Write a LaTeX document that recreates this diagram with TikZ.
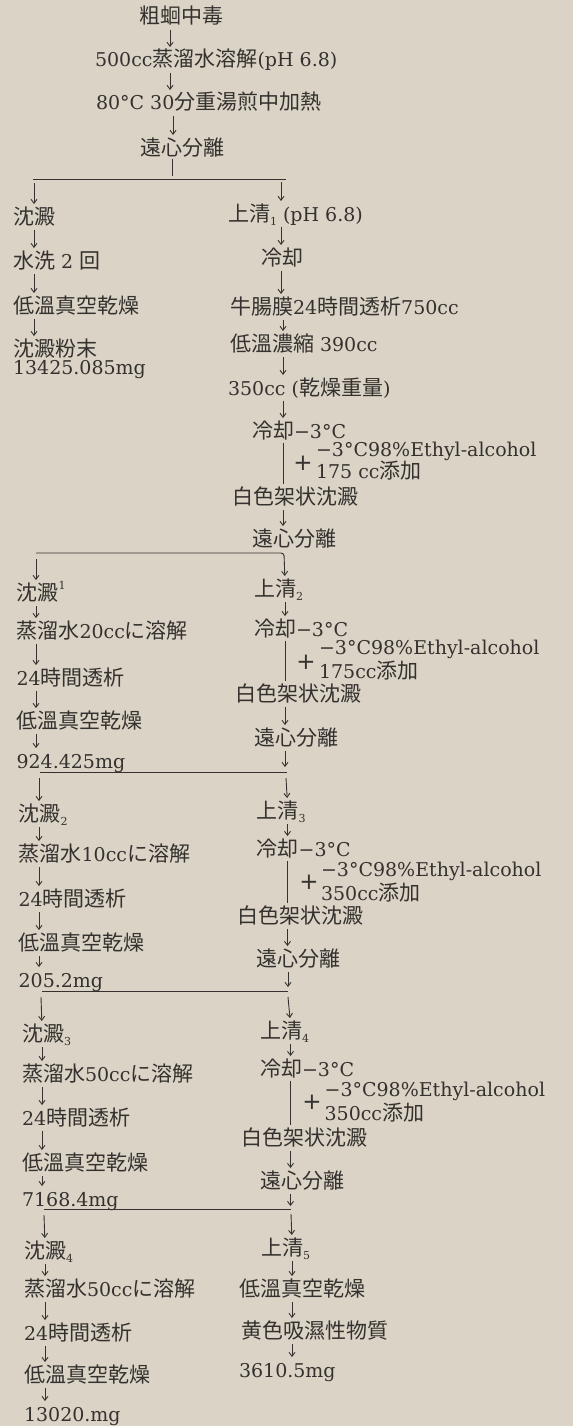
\documentclass[tikz,border=0pt]{standalone}
\usepackage{fontspec}
\setmainfont{DejaVu Serif}
\newfontfamily\cjk{Noto Sans CJK JP}
\newfontfamily\plusfont{DejaVu Sans}
\usetikzlibrary{arrows.meta}
\definecolor{bg}{RGB}{218,211,198}
\definecolor{ink}{RGB}{52,49,46}
\newcommand\J[1]{{\cjk\fontsize{21}{22}\selectfont #1}}
\newcommand\sbs[1]{\raisebox{-0.22em}{\fontsize{11}{11}\selectfont #1}}
\newcommand\sps[1]{\raisebox{0.55em}{\fontsize{11}{11}\selectfont #1}}
\newcommand\flowdn[3]{\draw[arr] (#1.south -| #3) -- (#2.north -| #3);}
\tikzset{
  txt/.style={anchor=base west, inner sep=0pt, outer sep=0pt, text height=14pt, text depth=4pt,
    font=\fontsize{19}{22}\selectfont, text=ink},
  pl/.style={inner sep=0pt, outer sep=0pt, font={\plusfont\fontsize{23}{23}\selectfont}, text=ink},
  ln/.style={draw=ink, line width=1pt},
  arr/.style={draw=ink, line width=0.9pt, -{Straight Barb[length=4pt,width=6pt]}, shorten <=2pt, shorten >=6pt},
}
\begin{document}
\begin{tikzpicture}[x=1pt,y=-1pt]
\useasboundingbox (0,0) rectangle (573,1426);
\fill[bg] (0,0) rectangle (573,1426);
% column x positions for connectors
\coordinate (xa) at (170,0);
\coordinate (xab) at (173,0);
\coordinate (xl1) at (34,0);
\coordinate (xl2) at (36,0);
\coordinate (xl3) at (39,0);
\coordinate (xl4) at (42,0);
\coordinate (xl5) at (45,0);
\coordinate (xr1) at (281,0);
\coordinate (xr1b) at (283,0);
\coordinate (xr2) at (285,0);
\coordinate (xr3) at (287.5,0);
\coordinate (xr4) at (290.5,0);
\coordinate (xr5) at (292,0);
% ---- top
\node[txt] (a1) at (139,24) {\J{粗蛔中毒}};
\node[txt] (a2) at (95,67) {500cc\J{蒸溜水溶解}(pH 6.8)};
\node[txt] (a3) at (96,110) {80°C 30\J{分重湯煎中加熱}};
\node[txt] (a4) at (140,155) {\J{遠心分離}};
\flowdn{a1}{a2}{xa}
\flowdn{a2}{a3}{xa}
\flowdn{a3}{a4}{xab}
% split 1
\coordinate (v1) at (172,176);
\coordinate (h1l) at (33,179);
\coordinate (h1r) at (286,179);
\coordinate (h1a) at (34,183);
\coordinate (h1b) at (281,182);
\draw[ln] (a4.south -| v1) -- (v1);
\draw[ln] (h1l) -- (h1r);
% ---- left block 1
\node[txt] (L1) at (13,224) {\J{沈澱}};
\node[txt] (L2) at (13,268) {\J{水洗} 2 \J{回}};
\node[txt] (L3) at (13,313) {\J{低溫真空乾燥}};
\node[txt] (L4a) at (13,356) {\J{沈澱粉末}};
\node[txt] (L4b) at (13,374) {13425.085mg};
\draw[arr, shorten <=0pt] (h1a) -- (L1.north -| xl1);
\flowdn{L1}{L2}{xl1}
\flowdn{L2}{L3}{xl1}
\flowdn{L3}{L4a}{xl1}
% ---- right block 1
\node[txt] (R1) at (228,221) {\J{上清}\sbs{1} (pH 6.8)};
\node[txt] (R2) at (261,265) {\J{冷却}};
\node[txt] (R3) at (230,314) {\J{牛腸膜}24\J{時間透析}750cc};
\node[txt] (R4) at (230,351) {\J{低溫濃縮} 390cc};
\node[txt] (R5) at (228,395) {350cc (\J{乾燥重量})};
\node[txt] (R6) at (252,438) {\J{冷却}−3°C};
\node[txt] (E1a) at (316,456) {−3°C98\%Ethyl-alcohol};
\node[txt] (E1b) at (316,478) {175 cc\J{添加}};
\node[pl] (P1s) at (303,463) {+};
\node[txt] (R7) at (232,504) {\J{白色架状沈澱}};
\node[txt] (R8) at (252,546) {\J{遠心分離}};
\draw[arr, shorten <=0pt] (h1b) -- (R1.north -| xr1);
\flowdn{R1}{R2}{xr1}
\flowdn{R2}{R3}{xr1}
\flowdn{R3}{R4}{xr1b}
\flowdn{R4}{R5}{xr1b}
\flowdn{R5}{R6}{xr1b}
\draw[ln, shorten <=1pt, shorten >=6pt] (R6.south -| xr1b) -- (R7.north -| xr1b);
\flowdn{R7}{R8}{xr1b}
% split 2
\coordinate (h2l) at (36,553);
\coordinate (h2r) at (284,553);
\coordinate (h2a) at (36,559);
% ---- left block 2
\node[txt] (P1) at (16.5,600) {\J{沈澱}\sps{1}};
\node[txt] (P2) at (16.5,638) {\J{蒸溜水}20cc\J{に溶解}};
\node[txt] (P3) at (16.5,685) {24\J{時間透析}};
\node[txt] (P4) at (16.5,728) {\J{低溫真空乾燥}};
\node[txt] (P5) at (16.5,768) {924.425mg};
\draw[arr, shorten <=0pt] (h2a) -- (P1.north -| xl2);
\flowdn{P1}{P2}{xl2}
\flowdn{P2}{P3}{xl2}
\flowdn{P3}{P4}{xl2}
\flowdn{P4}{P5}{xl2}
% ---- right block 2
\node[txt] (Q1) at (254,596) {\J{上清}\sbs{2}};
\node[txt] (Q2) at (254,636) {\J{冷却}−3°C};
\node[txt] (E2a) at (319,654) {−3°C98\%Ethyl-alcohol};
\node[txt] (E2b) at (319,678) {175cc\J{添加}};
\node[pl] (P2s) at (306,662) {+};
\node[txt] (Q3) at (235,701) {\J{白色架状沈澱}};
\node[txt] (Q4) at (254,745) {\J{遠心分離}};
\draw[arr, shorten <=0pt, rounded corners=3pt] (h2l) -- (h2r) -- (Q1.north -| xr2);
\flowdn{Q1}{Q2}{xr2}
\draw[ln, shorten <=1pt, shorten >=6pt] (Q2.south -| xr2) -- (Q3.north -| xr2);
\flowdn{Q3}{Q4}{xr2}
% split 3
\coordinate (t3) at (285,767);
\coordinate (h3l) at (40,772);
\coordinate (h3r) at (287,772);
\coordinate (h3a) at (39,778);
\coordinate (h3b) at (286,778);
\draw[arr, shorten >=0pt] (Q4.south -| xr2) -- (t3);
\draw[ln] (h3l) -- (h3r);
% ---- left block 3
\node[txt] (P6) at (18.6,821) {\J{沈澱}\sbs{2}};
\node[txt] (P7) at (18.6,861) {\J{蒸溜水}10cc\J{に溶解}};
\node[txt] (P8) at (18.6,906) {24\J{時間透析}};
\node[txt] (P9) at (18.6,950) {\J{低溫真空乾燥}};
\node[txt] (P10) at (18.6,987) {205.2mg};
\draw[arr, shorten <=0pt] (h3a) -- (P6.north -| xl3);
\flowdn{P6}{P7}{xl3}
\flowdn{P7}{P8}{xl3}
\flowdn{P8}{P9}{xl3}
\flowdn{P9}{P10}{xl3}
% ---- right block 3
\node[txt] (Q5) at (256.6,818) {\J{上清}\sbs{3}};
\node[txt] (Q6) at (256.6,856) {\J{冷却}−3°C};
\node[txt] (E3a) at (321,876) {−3°C98\%Ethyl-alcohol};
\node[txt] (E3b) at (321,900) {350cc\J{添加}};
\node[pl] (P3s) at (309,882) {+};
\node[txt] (Q7) at (237,923) {\J{白色架状沈澱}};
\node[txt] (Q8) at (256.6,966) {\J{遠心分離}};
\draw[arr, shorten <=0pt] (h3b) -- (Q5.north -| xr3);
\flowdn{Q5}{Q6}{xr3}
\draw[ln, shorten <=1pt, shorten >=6pt] (Q6.south -| xr3) -- (Q7.north -| xr3);
\flowdn{Q7}{Q8}{xr3}
% split 4
\coordinate (t4) at (288,987);
\coordinate (h4l) at (42,991);
\coordinate (h4r) at (288,991);
\coordinate (h4a) at (41,997);
\coordinate (h4b) at (288,997);
\draw[arr, shorten >=0pt] (Q8.south -| t4) -- (t4);
\draw[ln] (h4l) -- (h4r);
% ---- left block 4
\node[txt] (P11) at (22,1041) {\J{沈澱}\sbs{3}};
\node[txt] (P12) at (22,1081) {\J{蒸溜水}50cc\J{に溶解}};
\node[txt] (P13) at (22,1125) {24\J{時間透析}};
\node[txt] (P14) at (22,1170) {\J{低溫真空乾燥}};
\node[txt] (P15) at (22,1206) {7168.4mg};
\draw[arr, shorten <=0pt] (h4a) -- (P11.north -| xl4);
\flowdn{P11}{P12}{xl4}
\flowdn{P12}{P13}{xl4}
\flowdn{P13}{P14}{xl4}
\flowdn{P14}{P15}{xl4}
% ---- right block 4
\node[txt] (Q9) at (260,1038) {\J{上清}\sbs{4}};
\node[txt] (Q10) at (260,1076) {\J{冷却}−3°C};
\node[txt] (E4a) at (324.6,1096) {−3°C98\%Ethyl-alcohol};
\node[txt] (E4b) at (324.6,1120) {350cc\J{添加}};
\node[pl] (P4s) at (312,1102) {+};
\node[txt] (Q11) at (241,1145) {\J{白色架状沈澱}};
\node[txt] (Q12) at (260,1188) {\J{遠心分離}};
\draw[arr, shorten <=0pt] (h4b) -- (Q9.north -| xr4);
\flowdn{Q9}{Q10}{xr4}
\draw[ln, shorten <=1pt, shorten >=6pt] (Q10.south -| xr4) -- (Q11.north -| xr4);
\flowdn{Q11}{Q12}{xr4}
% split 5
\coordinate (t5) at (290.5,1206);
\coordinate (h5l) at (44,1209);
\coordinate (h5r) at (290.5,1209);
\coordinate (h5a) at (44,1215);
\coordinate (h5b) at (291,1214);
\draw[arr, shorten >=0pt] (Q12.south -| t5) -- (t5);
\draw[ln] (h5l) -- (h5r);
% ---- left block 5
\node[txt] (P16) at (24,1258) {\J{沈澱}\sbs{4}};
\node[txt] (P17) at (24,1296) {\J{蒸溜水}50cc\J{に溶解}};
\node[txt] (P18) at (24,1340) {24\J{時間透析}};
\node[txt] (P19) at (24,1382) {\J{低溫真空乾燥}};
\node[txt] (P20) at (24,1421) {13020.mg};
\draw[arr, shorten <=0pt] (h5a) -- (P16.north -| xl5);
\flowdn{P16}{P17}{xl5}
\flowdn{P17}{P18}{xl5}
\flowdn{P18}{P19}{xl5}
\flowdn{P19}{P20}{xl5}
% ---- right block 5
\node[txt] (Q13) at (261,1255) {\J{上清}\sbs{5}};
\node[txt] (Q14) at (239,1296) {\J{低溫真空乾燥}};
\node[txt] (Q15) at (241,1338) {\J{黄色吸濕性物質}};
\node[txt] (Q16) at (239,1377) {3610.5mg};
\draw[arr, shorten <=0pt] (h5b) -- (Q13.north -| xr5);
\flowdn{Q13}{Q14}{xr5}
\flowdn{Q14}{Q15}{xr5}
\flowdn{Q15}{Q16}{xr5}
\end{tikzpicture}
\end{document}
